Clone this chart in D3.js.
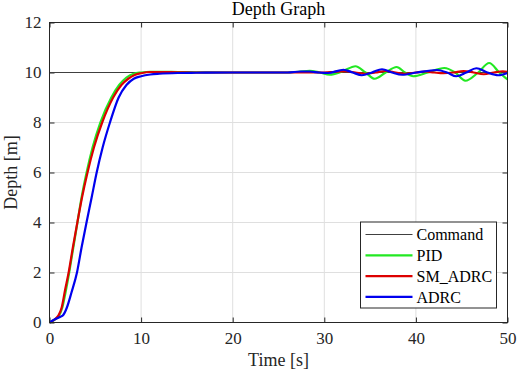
<!DOCTYPE html>
<meta charset="utf-8">
<script src="https://cdn.jsdelivr.net/npm/d3@7"></script>
<style>
  body { margin: 0; background: #fff; }
</style>
<div id="my_dataviz"></div>
<script>
// tick values
var xTicks = [0, 10, 20, 30, 40, 50];
var yTicks = [0, 2, 4, 6, 8, 10, 12];

// command (step to 10 m)
var command = [[0, 10], [50, 10]];

// PID response [time, depth]
var pid = [[0, 0], [0.5, 0.1], [1.0, 0.25], [1.4, 0.6], [1.8, 1.3], [2.15, 2.0], [2.6, 3.0], [3.05, 4.0],
  [3.5, 5.0], [4.05, 6.0], [4.7, 7.0], [5.55, 8.0], [6.75, 9.0], [7.6, 9.5], [8.4, 9.8], [9.2, 9.95],
  [10, 10.0], [11, 10.03], [12, 10.03], [14, 10.02], [16, 10.01], [20, 10.0], [26, 10.0],
  [27.2, 10.03], [28.4, 10.07], [29.5, 10.0], [30.6, 9.91], [32, 10.05], [33.4, 10.25],
  [34.5, 10.0], [35.5, 9.75], [36.7, 10.0], [37.9, 10.22], [38.8, 10.0], [39.7, 9.85],
  [41.3, 10.0], [43.1, 10.18], [44.3, 10.0], [45.4, 9.67], [46.8, 10.0], [48.0, 10.38],
  [49.1, 10.0], [50, 9.72]];

// SM_ADRC response
var smAdrc = [[0, 0], [0.5, 0.1], [0.8, 0.2], [1.0, 0.3], [1.33, 0.6], [1.7, 1.3], [2.09, 2.0], [2.55, 3.0],
  [3.04, 4.0], [3.55, 5.0], [4.15, 6.0], [4.85, 7.0], [5.75, 8.0], [6.95, 9.0], [7.85, 9.5], [8.6, 9.75],
  [9.3, 9.9], [10, 9.97], [11, 10.02], [12, 10.02], [14, 10.01], [16, 10.0], [26, 10.0], [30, 10.0],
  [31, 10.02], [32.3, 10.05], [33.4, 10.0], [34.5, 9.95], [35.6, 10.0], [36.7, 10.06], [37.8, 10.0],
  [38.8, 9.95], [40, 10.0], [41, 10.04], [42, 10.0], [43, 9.97], [44.1, 10.0], [45.2, 10.06],
  [46.3, 10.0], [47.4, 9.93], [48.5, 10.0], [49.5, 10.05], [50, 10.03]];

// ADRC response
var adrc = [[0, 0], [0.6, 0.13], [1.15, 0.22], [1.5, 0.3], [1.9, 0.6], [2.4, 1.2], [3.0, 2.0], [3.5, 3.0],
  [4.04, 4.0], [4.6, 5.0], [5.15, 6.0], [5.8, 7.0], [6.6, 8.0], [7.55, 9.0], [8.4, 9.5], [9.2, 9.75],
  [10, 9.85], [11, 9.92], [12, 9.95], [14, 9.98], [16, 9.99], [20, 10.0], [26, 10.0],
  [27.4, 10.04], [28.4, 10.04], [29.4, 10.0], [30.4, 9.98], [32.1, 10.11], [33.1, 10.0],
  [34.1, 9.89], [35.2, 10.0], [36.3, 10.13], [37.4, 10.0], [38.5, 9.91], [40.1, 10.0],
  [42.3, 10.1], [43.4, 10.0], [44.4, 9.85], [45.5, 10.0], [46.6, 10.17], [47.8, 10.0],
  [49.0, 9.89], [50, 9.98]];

var series = [
  { name: "Command", data: command, color: "#404040", width: 1 },
  { name: "PID", data: pid, color: "#22e822", width: 2.2 },
  { name: "SM_ADRC", data: smAdrc, color: "#dd0000", width: 2.2 },
  { name: "ADRC", data: adrc, color: "#0000ee", width: 2.2 }
];

var serif = "'Liberation Serif', 'Times New Roman', serif";

var margin = {top: 22.5, right: 10.5, bottom: 51.5, left: 49.5},
    width = 518 - margin.left - margin.right,
    height = 374 - margin.top - margin.bottom;

var svg = d3.select("#my_dataviz")
  .append("svg")
    .attr("width", 518)
    .attr("height", 374)
  .append("g")
    .attr("transform", "translate(" + margin.left + "," + margin.top + ")");

var x = d3.scaleLinear().domain([0, 50]).range([0, width]);
var y = d3.scaleLinear().domain([0, 12]).range([height, 0]);

// grid
svg.append("g").selectAll("line").data(xTicks.slice(1, -1)).enter().append("line")
  .attr("x1", function(d) { return x(d) }).attr("x2", function(d) { return x(d) })
  .attr("y1", 0).attr("y2", height)
  .attr("stroke", "#dfdfdf").attr("stroke-width", 1);
svg.append("g").selectAll("line").data(yTicks.slice(1, -1)).enter().append("line")
  .attr("y1", function(d) { return y(d) }).attr("y2", function(d) { return y(d) })
  .attr("x1", 0).attr("x2", width)
  .attr("stroke", "#dfdfdf").attr("stroke-width", 1);

// axes, matlab style with inward ticks on all sides
function styleAxis(g) {
  g.attr("font-family", serif).attr("font-size", 17);
  g.select(".domain").remove();
  g.selectAll("line").attr("stroke", "#262626");
  g.selectAll("text").attr("fill", "#262626").style("font-family", serif).style("font-size", "17px");
}
svg.append("g").attr("transform", "translate(0," + height + ")")
  .call(d3.axisBottom(x).tickValues(xTicks).tickSizeInner(-5).tickSizeOuter(0).tickPadding(9))
  .call(styleAxis);
svg.append("g")
  .call(d3.axisTop(x).tickValues(xTicks).tickSizeInner(-5).tickSizeOuter(0).tickFormat(""))
  .call(styleAxis);
svg.append("g")
  .call(d3.axisLeft(y).tickValues(yTicks).tickSizeInner(-5).tickSizeOuter(0).tickPadding(8))
  .call(styleAxis);
svg.append("g").attr("transform", "translate(" + width + ",0)")
  .call(d3.axisRight(y).tickValues(yTicks).tickSizeInner(-5).tickSizeOuter(0).tickFormat(""))
  .call(styleAxis);

// lines
var line = d3.line()
  .x(function(d) { return x(d[0]) })
  .y(function(d) { return y(d[1]) })
  .curve(d3.curveMonotoneX);

series.forEach(function(s) {
  svg.append("path")
    .datum(s.data)
    .attr("fill", "none")
    .attr("stroke", s.color)
    .attr("stroke-width", s.width)
    .attr("stroke-linejoin", "round")
    .attr("d", line);
});

// box
svg.append("rect")
  .attr("x", 0).attr("y", 0).attr("width", width).attr("height", height)
  .attr("fill", "none").attr("stroke", "#262626").attr("stroke-width", 1);

// title and labels
svg.append("text")
  .attr("x", width / 2).attr("y", -8)
  .attr("text-anchor", "middle")
  .attr("fill", "#000")
  .style("font-family", serif)
  .style("font-size", "18px")
  .text("Depth Graph");
svg.append("text")
  .attr("x", width / 2).attr("y", height + 43)
  .attr("text-anchor", "middle")
  .attr("fill", "#262626")
  .style("font-family", serif)
  .style("font-size", "18px")
  .text("Time [s]");
svg.append("text")
  .attr("transform", "translate(" + (-33) + "," + (height / 2) + ") rotate(-90)")
  .attr("text-anchor", "middle")
  .attr("fill", "#262626")
  .style("font-family", serif)
  .style("font-size", "18px")
  .text("Depth [m]");

// legend
var lg = svg.append("g").attr("transform", "translate(" + (360.5 - margin.left) + "," + (222 - margin.top) + ")");
lg.append("rect")
  .attr("width", 136).attr("height", 86)
  .attr("fill", "#fff").attr("stroke", "#262626").attr("stroke-width", 1);
series.forEach(function(s, i) {
  var yy = 12.5 + i * 20.8;
  lg.append("line")
    .attr("x1", 5).attr("x2", 52).attr("y1", yy).attr("y2", yy)
    .attr("stroke", s.color).attr("stroke-width", s.width);
  lg.append("text")
    .attr("x", 56).attr("y", yy).attr("dy", "0.35em")
    .attr("fill", "#000")
    .style("font-family", serif)
    .style("font-size", "16px")
    .text(s.name);
});
</script>
